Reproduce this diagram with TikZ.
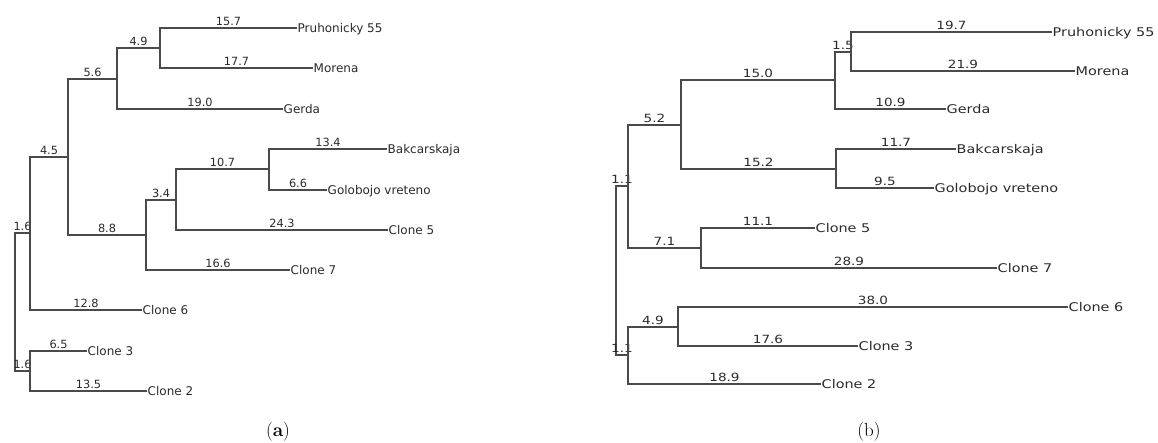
\documentclass[tikz,border=0pt]{standalone}
\usepackage{fontspec}
\newfontfamily\dejavu{DejaVu Sans}
\definecolor{linegray}{HTML}{4A4A4A}
\definecolor{txtgray}{HTML}{2A2A2A}
\newcommand\rs[1]{\scalebox{1.2}[1]{#1}}
\tikzset{
  br/.style={draw=linegray, line width=1.2pt},
  lbl/.style={anchor=south, inner sep=0pt, yshift=1.6pt, text=txtgray,
    font=\dejavu\fontsize{11.3}{11.3}\selectfont, text depth=0pt},
  leaf/.style={anchor=west, inner sep=0.5pt, text=txtgray,
    font=\dejavu\fontsize{12}{12}\selectfont, text height=8.8pt, text depth=0pt},
  captionlbl/.style={inner sep=0pt, text=black, font=\fontsize{19}{19}\selectfont}
}
\begin{document}
\begin{tikzpicture}[x=1pt,y=-1pt]
\useasboundingbox (0,0) rectangle (1158,443);
% ---------------- tree (a) ----------------
\coordinate (aR) at (15,302);
\coordinate (aA) at (30,233);
\coordinate (aB) at (30,371);
\coordinate (aC) at (68,157);
\coordinate (aD) at (117,79);
\coordinate (aE) at (146,235);
\coordinate (aF) at (160,48);
\coordinate (aG) at (176,200);
\coordinate (aH) at (269,169);
\node[leaf] (aPru) at (297,28) {Pruhonicky 55};
\node[leaf] (aMor) at (313,68) {Morena};
\node[leaf] (aGer) at (283,109) {Gerda};
\node[leaf] (aBak) at (387,149) {Bakcarskaja};
\node[leaf] (aGol) at (327,190) {Golobojo vreteno};
\node[leaf] (aC5) at (388,230) {Clone 5};
\node[leaf] (aC7) at (290,270) {Clone 7};
\node[leaf] (aC6) at (142,310) {Clone 6};
\node[leaf] (aC3) at (87,351) {Clone 3};
\node[leaf] (aC2) at (147,391) {Clone 2};
\draw[br] (aR) |- node[lbl,pos=.75]{1.6} (aA);
\draw[br] (aR) |- node[lbl,pos=.75]{1.6} (aB);
\draw[br] (aA) |- node[lbl,pos=.75]{4.5} (aC);
\draw[br] (aA) |- node[lbl,pos=.75]{12.8} (aC6);
\draw[br] (aC) |- node[lbl,pos=.75]{5.6} (aD);
\draw[br] (aC) |- node[lbl,pos=.75]{8.8} (aE);
\draw[br] (aD) |- node[lbl,pos=.75]{4.9} (aF);
\draw[br] (aD) |- node[lbl,pos=.75]{19.0} (aGer);
\draw[br] (aF) |- node[lbl,pos=.75]{15.7} (aPru);
\draw[br] (aF) |- node[lbl,pos=.75]{17.7} (aMor);
\draw[br] (aE) |- node[lbl,pos=.75]{3.4} (aG);
\draw[br] (aE) |- node[lbl,pos=.75]{16.6} (aC7);
\draw[br] (aG) |- node[lbl,pos=.75]{10.7} (aH);
\draw[br] (aG) |- node[lbl,pos=.75]{24.3} (aC5);
\draw[br] (aH) |- node[lbl,pos=.75]{13.4} (aBak);
\draw[br] (aH) |- node[lbl,pos=.75]{6.6} (aGol);
\draw[br] (aB) |- node[lbl,pos=.75]{6.5} (aC3);
\draw[br] (aB) |- node[lbl,pos=.75]{13.5} (aC2);
\node[captionlbl] (capa) at (278,432) {(\textbf{a})};
% ---------------- tree (b) ----------------
\coordinate (bR) at (616,271);
\coordinate (bA) at (628,186);
\coordinate (bB) at (628,355);
\coordinate (bC) at (681,125);
\coordinate (bD) at (701,248);
\coordinate (bE) at (835,80);
\coordinate (bF) at (836,169);
\coordinate (bG) at (851,52);
\coordinate (bH) at (678,327);
\node[leaf] (bPru) at (1052,32) {\rs{Pruhonicky 55}};
\node[leaf] (bMor) at (1075,71) {\rs{Morena}};
\node[leaf] (bGer) at (946,109) {\rs{Gerda}};
\node[leaf] (bBak) at (956,149) {\rs{Bakcarskaja}};
\node[leaf] (bGol) at (934,188) {\rs{Golobojo vreteno}};
\node[leaf] (bC5) at (815,228) {\rs{Clone 5}};
\node[leaf] (bC7) at (997,268) {\rs{Clone 7}};
\node[leaf] (bC6) at (1068,307) {\rs{Clone 6}};
\node[leaf] (bC3) at (858,346) {\rs{Clone 3}};
\node[leaf] (bC2) at (821,384) {\rs{Clone 2}};
\draw[br] (bR) |- node[lbl,pos=.75]{\rs{1.1}} (bA);
\draw[br] (bR) |- node[lbl,pos=.75]{\rs{1.1}} (bB);
\draw[br] (bA) |- node[lbl,pos=.75]{\rs{5.2}} (bC);
\draw[br] (bA) |- node[lbl,pos=.75]{\rs{7.1}} (bD);
\draw[br] (bC) |- node[lbl,pos=.75]{\rs{15.0}} (bE);
\draw[br] (bC) |- node[lbl,pos=.75]{\rs{15.2}} (bF);
\draw[br] (bE) |- node[lbl,pos=.75]{\rs{1.5}} (bG);
\draw[br] (bE) |- node[lbl,pos=.75]{\rs{10.9}} (bGer);
\draw[br] (bG) |- node[lbl,pos=.75]{\rs{19.7}} (bPru);
\draw[br] (bG) |- node[lbl,pos=.75]{\rs{21.9}} (bMor);
\draw[br] (bF) |- node[lbl,pos=.75]{\rs{11.7}} (bBak);
\draw[br] (bF) |- node[lbl,pos=.75]{\rs{9.5}} (bGol);
\draw[br] (bD) |- node[lbl,pos=.75]{\rs{11.1}} (bC5);
\draw[br] (bD) |- node[lbl,pos=.75]{\rs{28.9}} (bC7);
\draw[br] (bB) |- node[lbl,pos=.75]{\rs{4.9}} (bH);
\draw[br] (bB) |- node[lbl,pos=.75]{\rs{18.9}} (bC2);
\draw[br] (bH) |- node[lbl,pos=.75]{\rs{38.0}} (bC6);
\draw[br] (bH) |- node[lbl,pos=.75]{\rs{17.6}} (bC3);
\node[captionlbl] (capb) at (869,432) {(b)};
\end{tikzpicture}
\end{document}
